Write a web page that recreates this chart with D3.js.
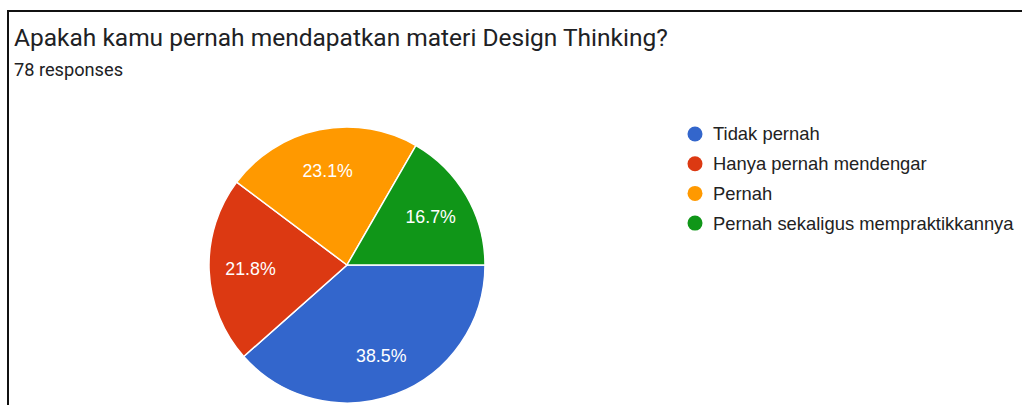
<!DOCTYPE html>
<html>
<head>
<meta charset="utf-8">
<script src="https://cdn.jsdelivr.net/npm/d3@7"></script>
<style>
  html, body { margin: 0; padding: 0; background: #fff; }
  svg { display: block; }
</style>
</head>
<body>
<svg id="chart" width="1022" height="405"></svg>
<script>
// chart data
const title = 'Apakah kamu pernah mendapatkan materi Design Thinking?';
const subtitle = '78 responses';
const categories = ['Tidak pernah', 'Hanya pernah mendengar', 'Pernah', 'Pernah sekaligus mempraktikkannya'];
const counts = [30, 17, 18, 13];
const colors = ['#3366cc', '#dc3912', '#ff9900', '#109618'];

const svg = d3.select('#chart');

// frame (only left and top edges are in view)
svg.append('path')
  .attr('d', 'M8,405 V11 H1022')
  .attr('fill', 'none')
  .attr('stroke', '#111')
  .attr('stroke-width', 2);

svg.append('text')
  .attr('x', 14).attr('y', 46)
  .attr('font-family', 'Roboto, Arial, sans-serif')
  .attr('font-size', 24.5)
  .attr('fill', '#202124')
  .text(title);

svg.append('text')
  .attr('x', 14).attr('y', 76)
  .attr('font-family', 'Roboto, Arial, sans-serif')
  .attr('font-size', 18.2)
  .attr('fill', '#202124')
  .text(subtitle);

// pie, starting at 3 o'clock, clockwise, in data order
const cx = 347, cy = 265, radius = 138;
const total = d3.sum(counts);

const pie = d3.pie()
  .sort(null)
  .startAngle(Math.PI / 2)
  .endAngle(Math.PI / 2 + 2 * Math.PI);

const arc = d3.arc().innerRadius(0).outerRadius(radius);
const labelArc = d3.arc().innerRadius(radius * 0.7).outerRadius(radius * 0.7);

const g = svg.append('g').attr('transform', `translate(${cx},${cy})`);

const slices = pie(counts);

g.selectAll('path')
  .data(slices)
  .join('path')
  .attr('d', arc)
  .attr('fill', (_, i) => colors[i])
  .attr('stroke', '#fff')
  .attr('stroke-width', 1.5);

g.selectAll('text')
  .data(slices)
  .join('text')
  .attr('transform', d => `translate(${labelArc.centroid(d)})`)
  .attr('text-anchor', 'middle')
  .attr('dy', '0.35em')
  .attr('font-family', 'Arial, "Liberation Sans", sans-serif')
  .attr('font-size', 17.8)
  .attr('fill', '#fff')
  .text(d => (d.data / total * 100).toFixed(1) + '%');

// legend
const legend = svg.append('g').attr('transform', 'translate(695,134)');
const rows = legend.selectAll('g')
  .data(categories)
  .join('g')
  .attr('transform', (_, i) => `translate(0,${i * 29.7})`);

rows.append('circle')
  .attr('r', 7.5)
  .attr('fill', (_, i) => colors[i]);

rows.append('text')
  .attr('x', 18)
  .attr('dy', '0.35em')
  .attr('font-family', 'Arial, "Liberation Sans", sans-serif')
  .attr('font-size', 18.4)
  .attr('fill', '#222')
  .text(d => d);
</script>
</body>
</html>
